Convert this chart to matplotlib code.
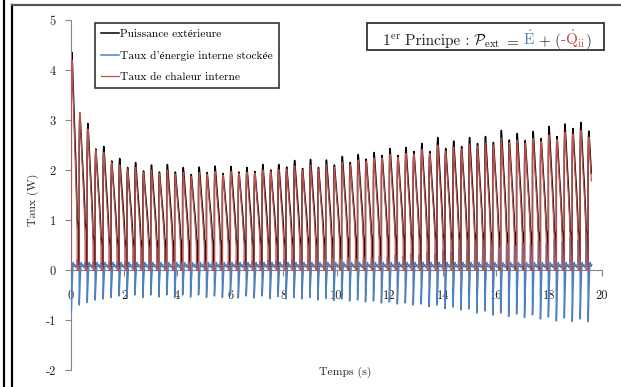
import numpy as np
import matplotlib
matplotlib.use("Agg")
import matplotlib.pyplot as plt
from matplotlib.lines import Line2D
from matplotlib.patches import Rectangle

plt.rcParams['font.family'] = ['cmr10', 'Liberation Serif']
plt.rcParams['mathtext.fontset'] = 'cm'
plt.rcParams['axes.unicode_minus'] = False

# ---------------- data ----------------
series_names = ["Puissance extérieure", "Taux d'énergie interne stockée", "Taux de chaleur interne"]
x_ticks = [0, 2, 4, 6, 8, 10, 12, 14, 16, 18, 20]
x_tick_labels = ["0", "2", "4", "6", "8", "10", "12", "14", "16", "18", "20"]
y_ticks = [-2, -1, 0, 1, 2, 3, 4, 5]
y_tick_labels = ["-2", "-1", "0", "1", "2", "3", "4", "5"]

cycle_start = 0.01      # s
cycle_period = 0.2995   # s
t_end = 19.62           # s

# peak of each cycle (W)
black_peaks = [4.35, 3.12, 2.93, 2.42, 2.47, 2.18, 2.23, 2.05, 2.15, 1.98,
               2.10, 1.96, 2.11, 1.96, 2.05, 1.91, 2.06, 1.95, 2.08, 1.93,
               2.07, 1.96, 2.05, 1.97, 2.11, 2.00, 2.11, 2.06, 2.19, 2.03,
               2.21, 2.05, 2.20, 2.10, 2.27, 2.15, 2.31, 2.22, 2.35, 2.29,
               2.43, 2.29, 2.45, 2.37, 2.53, 2.37, 2.65, 2.43, 2.58, 2.47,
               2.65, 2.53, 2.67, 2.55, 2.79, 2.60, 2.73, 2.59, 2.77, 2.63,
               2.87, 2.67, 2.92, 2.83, 2.95, 2.78]
red_peaks = [4.20, 3.15, 2.82, 2.40, 2.35, 2.15, 2.10, 2.02, 2.05, 1.95,
             2.00, 1.93, 2.00, 1.92, 1.95, 1.88, 1.95, 1.92, 1.97, 1.90,
             1.97, 1.93, 1.96, 1.94, 2.00, 1.97, 2.01, 2.02, 2.08, 2.00,
             2.10, 2.02, 2.10, 2.06, 2.16, 2.11, 2.20, 2.18, 2.24, 2.24,
             2.31, 2.25, 2.33, 2.32, 2.41, 2.33, 2.50, 2.38, 2.46, 2.42,
             2.52, 2.48, 2.54, 2.50, 2.64, 2.55, 2.60, 2.54, 2.63, 2.57,
             2.70, 2.61, 2.76, 2.72, 2.79, 2.66]
# level reached at the end of each cycle, just before the drop (W)
black_lows = [1.00, 0.95, 0.70, 0.66, 0.64, 0.64, 0.62, 0.64, 0.62, 0.64,
              0.62, 0.64, 0.62, 0.64, 0.62, 0.64, 0.62, 0.64, 0.62, 0.64,
              0.62, 0.64, 0.64, 0.66, 0.64, 0.66, 0.64, 0.66, 0.66, 0.68,
              0.66, 0.68, 0.68, 0.70, 0.68, 0.70, 0.70, 0.72, 0.70, 0.72,
              0.72, 0.74, 0.72, 0.74, 0.74, 0.76, 0.74, 0.76, 0.76, 0.78,
              0.76, 0.78, 0.78, 0.80, 0.78, 0.80, 0.80, 0.80, 0.79, 0.81,
              0.80, 0.81, 0.80, 0.82, 0.81, 0.82]
red_lows = [0.65, 0.60, 0.50, 0.46, 0.45, 0.45, 0.44, 0.45, 0.44, 0.45,
            0.44, 0.45, 0.44, 0.45, 0.44, 0.45, 0.44, 0.45, 0.44, 0.45,
            0.45, 0.46, 0.46, 0.47, 0.46, 0.47, 0.47, 0.48, 0.48, 0.49,
            0.49, 0.50, 0.50, 0.51, 0.51, 0.52, 0.52, 0.53, 0.53, 0.54,
            0.54, 0.55, 0.55, 0.56, 0.56, 0.57, 0.57, 0.58, 0.58, 0.58,
            0.58, 0.59, 0.59, 0.60, 0.60, 0.60, 0.60, 0.61, 0.61, 0.61,
            0.61, 0.62, 0.62, 0.62, 0.62, 0.62]
# most negative and most positive value of the stored-energy rate per cycle (W)
blue_mins = [-0.85, -0.70, -0.65, -0.60, -0.58, -0.55, -0.52, -0.55, -0.50, -0.55,
             -0.50, -0.54, -0.50, -0.55, -0.50, -0.54, -0.50, -0.55, -0.52, -0.55,
             -0.50, -0.56, -0.52, -0.56, -0.52, -0.57, -0.53, -0.58, -0.55, -0.58,
             -0.55, -0.60, -0.57, -0.61, -0.58, -0.62, -0.60, -0.64, -0.62, -0.66,
             -0.64, -0.68, -0.66, -0.70, -0.68, -0.73, -0.70, -0.77, -0.74, -0.80,
             -0.78, -0.86, -0.82, -0.90, -0.86, -0.93, -0.88, -0.95, -0.90, -0.98,
             -0.94, -1.02, -0.96, -1.03, -0.98, -1.03]
blue_maxs = [0.20, 0.15, 0.15, 0.14, 0.15, 0.14, 0.15, 0.14, 0.15, 0.14,
             0.15, 0.15, 0.16, 0.15, 0.16, 0.15, 0.17, 0.16, 0.17, 0.16,
             0.18, 0.17, 0.18, 0.17, 0.19, 0.18, 0.20, 0.19, 0.21, 0.20,
             0.22, 0.21, 0.23, 0.22, 0.25, 0.23, 0.26, 0.25, 0.28, 0.26,
             0.30, 0.28, 0.32, 0.30, 0.35, 0.32, 0.38, 0.35, 0.42, 0.38,
             0.48, 0.42, 0.50, 0.45, 0.53, 0.48, 0.55, 0.50, 0.58, 0.52,
             0.62, 0.56, 0.66, 0.60, 0.73, 0.65]
blue_start = 2.7   # value at t = 0

# shape of one cycle (phase in [0,1], fraction between low and peak)
hump_phase = [0.004, 0.04, 0.09, 0.14, 0.25, 0.40, 0.55, 0.68, 0.74]
hump_frac = [0.72, 0.93, 1.00, 0.94, 0.78, 0.57, 0.37, 0.16, 0.00]
red_drop_phase = 0.745
black_tail_phase = [0.84, 0.92]
black_tail_drop = [0.08, 0.20]
black_drop_phase = 0.925
blue_phase = [0.004, 0.05, 0.10, 0.15, 0.20, 0.25, 0.33, 0.45, 0.58, 0.70]
blue_frac_min = [1.0, 0.70, 0.40, 0.15, 0.0, 0.0, 0.0, 0.0, 0.0, 0.0]
blue_offset = [0.0, 0.0, 0.0, 0.0, 0.10, 0.15, 0.07, 0.11, 0.05, 0.08]
blue_tail_phase = [0.76, 0.84, 0.95]
blue_tail_frac = [1.0, 0.45, 0.10]

colors = ["#000000", "#4F81BD", "#C0504D"]


def build_hump(peaks, lows, drop_phase, tail_phase=(), tail_drop=()):
    t, v = [0.0], [0.0]
    for k, (p, lo) in enumerate(zip(peaks, lows)):
        t0 = cycle_start + k * cycle_period
        t.append(t0); v.append(0.0)
        for ph, fr in zip(hump_phase, hump_frac):
            t.append(t0 + ph * cycle_period); v.append(lo + fr * (p - lo))
        for ph, d in zip(tail_phase, tail_drop):
            t.append(t0 + ph * cycle_period); v.append(lo - d)
        t.append(t0 + drop_phase * cycle_period); v.append(0.0)
    t, v = np.array(t), np.array(v)
    m = t <= t_end
    return t[m], v[m]


def build_blue(mins, maxs):
    t, v = [0.0], [blue_start]
    for k, (mn, mx) in enumerate(zip(mins, maxs)):
        t0 = cycle_start + k * cycle_period
        t.append(t0); v.append(0.0)
        for ph, fm, off in zip(blue_phase, blue_frac_min, blue_offset):
            t.append(t0 + ph * cycle_period); v.append(fm * mn + off)
        for ph, fr in zip(blue_tail_phase, blue_tail_frac):
            t.append(t0 + ph * cycle_period); v.append(fr * mx)
    t, v = np.array(t), np.array(v)
    m = t <= t_end
    return t[m], v[m]


tb, vb = build_hump(black_peaks, black_lows, black_drop_phase, black_tail_phase, black_tail_drop)
tr, vr = build_hump(red_peaks, red_lows, red_drop_phase)
tu, vu = build_blue(blue_mins, blue_maxs)

# ---------------- figure ----------------
W, H = 621, 387
fig = plt.figure(figsize=(W / 100, H / 100), dpi=100)

def fx(px):
    return px / W

def fy(py):
    return 1 - py / H

ax = fig.add_axes([fx(71), fy(370), fx(602) - fx(71), fy(20) - fy(370)])
l1, = ax.plot(tb, vb, color=colors[0], lw=1.1, label=series_names[0], zorder=2)
l2, = ax.plot(tu, vu, color=colors[1], lw=1.1, label=series_names[1], zorder=3)
l3, = ax.plot(tr, vr, color=colors[2], lw=0.9, label=series_names[2], zorder=4)

ax.set_xlim(0, 20)
ax.set_ylim(-2, 5)
gray = "#868686"
for s in ("top", "right"):
    ax.spines[s].set_visible(False)
ax.spines["bottom"].set_position(("data", 0))
ax.spines["bottom"].set_color(gray)
ax.spines["left"].set_color(gray)
ax.set_xticks(x_ticks)
ax.set_xticklabels(x_tick_labels)
ax.set_yticks(y_ticks)
ax.set_yticklabels(y_tick_labels)
ax.tick_params(axis="x", direction="out", length=4, color=gray, pad=10.0, labelsize=9, labelcolor="#222222")
ax.tick_params(axis="y", direction="out", length=4, color=gray, pad=6.8, labelsize=9, labelcolor="#222222")
ax.patch.set_alpha(0)

ax.text((345 - 71) / 531, (370 - 372) / 350, "Temps (s)", transform=ax.transAxes,
        ha="center", va="center", fontsize=8.5, color="#222222")
ax.text((33 - 71) / 531, (370 - 200) / 350, "Taux (W)", transform=ax.transAxes,
        ha="center", va="center", fontsize=8.5, rotation=90, color="#222222")

leg = fig.legend(handles=[l1, l2, l3], loc="upper left", bbox_to_anchor=(fx(95), fy(23)),
                 bbox_transform=fig.transFigure, borderaxespad=0, fancybox=False,
                 frameon=True, fontsize=8.2, handlelength=1.55, handletextpad=0.12,
                 labelspacing=1.0, borderpad=0.55)
leg.get_frame().set_edgecolor("black")
leg.get_frame().set_linewidth(1.2)

# principle box
fig.add_artist(Rectangle((fx(367), fy(50)), fx(604) - fx(367), fy(23) - fy(50),
                         transform=fig.transFigure, fill=False, ec="#333333", lw=1.3))
pieces = [
    (r"$1^{\mathrm{er}}$", "#222222", 0),
    ("Principe :", "#222222", 4),
    (r"$\mathcal{P}_{\mathrm{ext}}$", "#111111", 4),
    (r"$=$", "#222222", 3),
    (r"$\dot{\mathrm{E}}$", "#4F81BD", 4),
    (r"$+$", "#222222", 3),
    ("(", "#444444", 3),
    (r"-$\dot{\mathrm{Q}}_{\mathrm{ii}}$", "#C0504D", 0),
    (")", "#444444", 0),
]
fig.canvas.draw()
renderer = fig.canvas.get_renderer()
xcur = 382
base_y = 45
for txt, col, gap in pieces:
    xcur += gap
    t = fig.text(fx(xcur), fy(base_y), txt, color=col, fontsize=11, ha="left", va="baseline")
    bb = t.get_window_extent(renderer)
    xcur += bb.width

# outer frame lines
fig.add_artist(Line2D([fx(4), fx(4)], [0, 1], transform=fig.transFigure, color="black", lw=1.6))
fig.add_artist(Line2D([fx(12), fx(12)], [0, fy(5)], transform=fig.transFigure, color="black", lw=1.6))
fig.add_artist(Line2D([fx(12), 1], [fy(5), fy(5)], transform=fig.transFigure, color="#555555", lw=1.6))

fig.savefig("out.png", dpi=100)
